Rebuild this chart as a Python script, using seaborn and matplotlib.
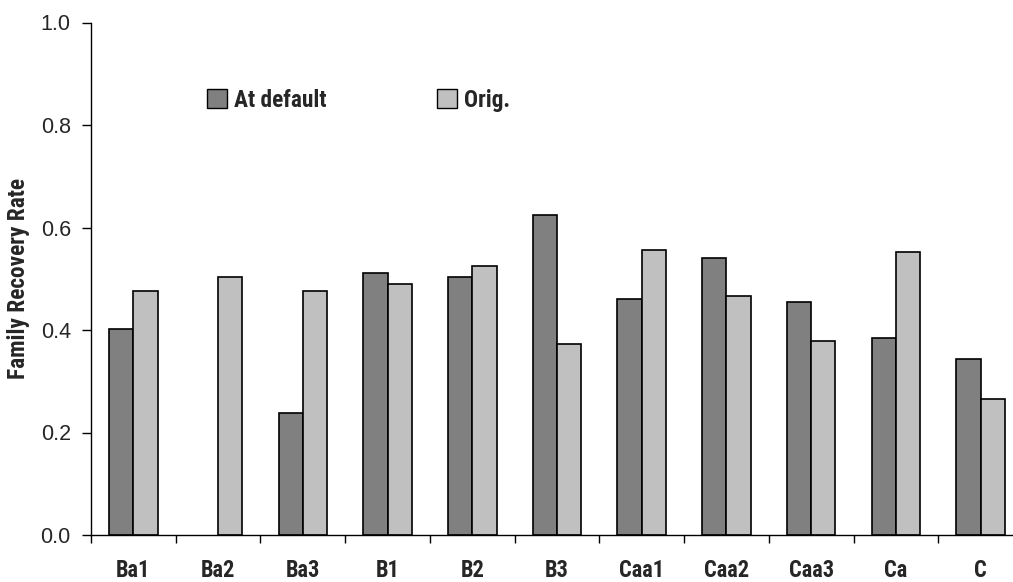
import matplotlib
matplotlib.use("Agg")
import matplotlib.pyplot as plt
from matplotlib import font_manager
import seaborn as sns
import pandas as pd
import numpy as np
from matplotlib.patches import Patch
from matplotlib.ticker import FixedLocator

categories = ["Ba1", "Ba2", "Ba3", "B1", "B2", "B3", "Caa1", "Caa2", "Caa3", "Ca", "C"]
at_default = [0.402, np.nan, 0.239, 0.511, 0.504, 0.624, 0.461, 0.540, 0.455, 0.385, 0.344]
orig = [0.476, 0.504, 0.476, 0.490, 0.525, 0.373, 0.557, 0.466, 0.379, 0.552, 0.265]
series_names = ["At default", "Orig."]
y_ticks = [0.0, 0.2, 0.4, 0.6, 0.8, 1.0]

df = pd.DataFrame({
    "cat": categories * 2,
    "series": [series_names[0]] * len(categories) + [series_names[1]] * len(categories),
    "value": at_default + orig,
})

sns.set_style("white")
plt.rcParams["font.family"] = ["Liberation Sans", "DejaVu Sans"]

# find a condensed bold font if one is installed
names = {f.name for f in font_manager.fontManager.ttflist}
cond_family = None
for cand in ["Liberation Sans Narrow", "Roboto Condensed", "Open Sans Condensed",
             "Noto Sans Condensed", "DejaVu Sans Condensed", "Arial Narrow"]:
    if cand in names:
        cond_family = cand
        break
cond_stretch = "normal"
if cond_family is None:
    for f in font_manager.fontManager.ttflist:
        if f.stretch not in ("normal", 500) and f.name in ("Noto Sans", "Open Sans", "Roboto", "DejaVu Sans", "Inter"):
            cond_family = f.name
            cond_stretch = "condensed"
            break
is_narrow = cond_family is not None
if cond_family is None:
    cond_family = "Liberation Sans"
narrow = [cond_family, "Liberation Sans", "DejaVu Sans"]
scale = 1.12 if is_narrow else 1.0

colors = {"At default": "#808080", "Orig.": "#C0C0C0"}

fig = plt.figure(figsize=(10.13, 5.82), dpi=100)
ax = fig.add_axes([91 / 1013, 47 / 582, 932 / 1013, 512.5 / 582])

sns.barplot(data=df, x="cat", y="value", hue="series", order=categories,
            hue_order=series_names, palette=colors, width=0.574, gap=0,
            edgecolor="black", linewidth=1.2, ax=ax, legend=False, errorbar=None)

ax.set_xlim(-0.5, len(categories) - 0.5)
ax.set_ylim(0, 1.0)
ax.set_yticks(y_ticks)
ax.set_yticklabels([f"{t:.1f}" for t in y_ticks], fontsize=15.5)
ax.tick_params(axis="y", direction="out", length=6.5, width=1, color="black", pad=8, left=True)

ax.set_xticks(range(len(categories)))
ax.set_xticklabels(categories, fontsize=14.5 * scale, fontweight="bold", family=narrow,
                   fontstretch=cond_stretch)
ax.tick_params(axis="x", which="major", length=0, pad=17)
ax.xaxis.set_minor_locator(FixedLocator([i - 0.5 for i in range(len(categories) + 1)]))
ax.tick_params(axis="x", which="minor", direction="out", length=6, width=1, color="black", bottom=True)

ax.set_xlabel("")
ax.set_ylabel("Family Recovery Rate", fontsize=14.3 * 1.18 if is_narrow else 14.3,
              fontweight="bold", family=narrow, fontstretch=cond_stretch)
ax.yaxis.set_label_coords(-61 / 932, 0.5)

for s in ["top", "right"]:
    ax.spines[s].set_visible(False)
for s in ["left", "bottom"]:
    ax.spines[s].set_color("black")
    ax.spines[s].set_linewidth(1)

handles = [Patch(facecolor=colors[n], edgecolor="black", linewidth=1) for n in series_names]
leg = fig.legend(handles, series_names, loc="center left",
                 bbox_to_anchor=(207 / 1013, 1 - 100 / 582), frameon=False, ncol=2,
                 prop={"family": narrow, "weight": "bold", "size": 15 * scale, "stretch": cond_stretch},
                 handlelength=0.85, handleheight=0.85, handletextpad=0.3,
                 columnspacing=4.75, borderpad=0, borderaxespad=0)

fig.savefig("out.png", dpi=100)
